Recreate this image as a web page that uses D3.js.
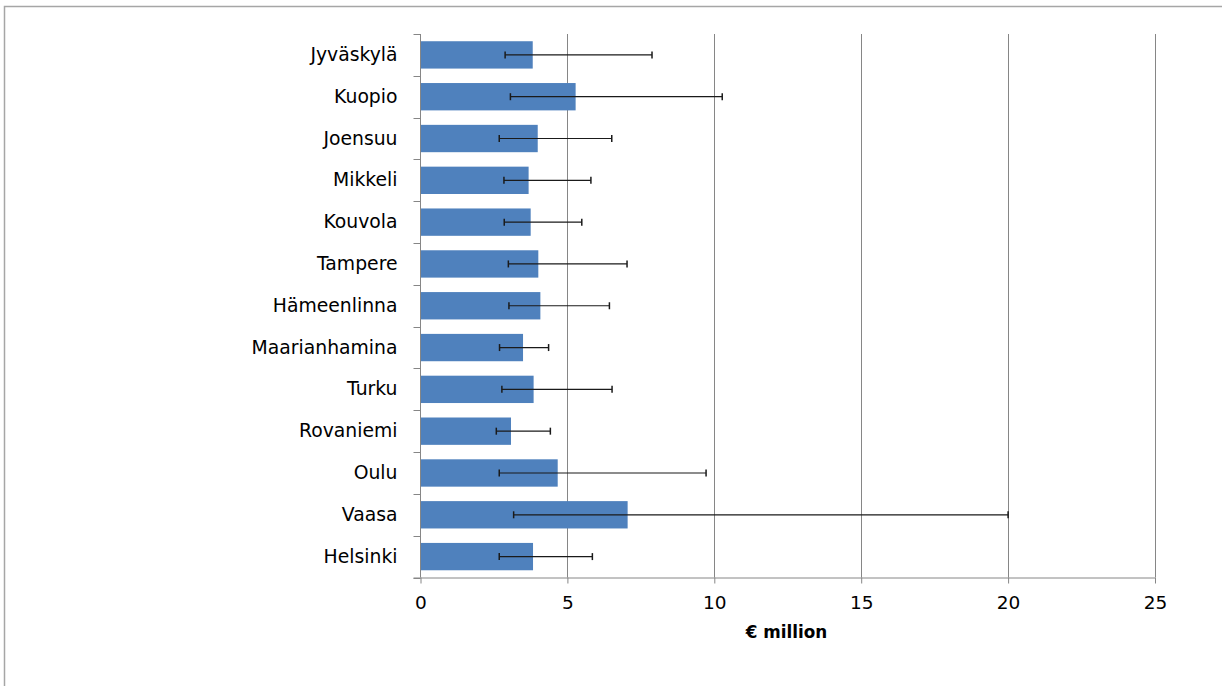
<!DOCTYPE html>
<html><head><meta charset="utf-8">
<script src="https://cdn.jsdelivr.net/npm/d3@7"></script>
<style>body{margin:0;background:#fff}svg{display:block}text{font-family:"DejaVu Sans",sans-serif}</style>
</head><body>
<script>
const categories = ["Jyväskylä","Kuopio","Joensuu","Mikkeli","Kouvola","Tampere","Hämeenlinna","Maarianhamina","Turku","Rovaniemi","Oulu","Vaasa","Helsinki"];
const values    = [3.82, 5.28, 3.99, 3.68, 3.75, 4.01, 4.08, 3.49, 3.85, 3.08, 4.67, 7.05, 3.83];
const errLow    = [2.88, 3.06, 2.68, 2.84, 2.85, 2.99, 3.01, 2.69, 2.77, 2.58, 2.68, 3.17, 2.68];
const errHigh   = [7.88, 10.27, 6.51, 5.80, 5.49, 7.03, 6.43, 4.36, 6.52, 4.42, 9.72, 20.0, 5.85];
const xTicks    = [0, 5, 10, 15, 20, 25];
const xTitle    = "€ million";

const W = 1222, H = 686;
const FONT = '"DejaVu Sans",sans-serif';
const svg = d3.select("body").append("svg").attr("width", W).attr("height", H);

// outer chart border (only top and left visible)
svg.append("rect").attr("x", 4.5).attr("y", 6.5).attr("width", 1240).attr("height", 700)
  .attr("fill", "none").attr("stroke", "#a6a6a6").attr("stroke-width", 1.5);

const pLeft = 420.5, pRight = 1155, pTop = 34, pBottom = 577.5;
const x = d3.scaleLinear().domain([0, 25]).range([pLeft, pRight]);
const y = d3.scaleBand().domain(categories).range([pTop, pBottom]).paddingInner(0.346).paddingOuter(0.173);

// gridlines
svg.append("g").selectAll("line").data(xTicks.slice(1)).join("line")
  .attr("x1", d => Math.round(x(d)) + 0.5).attr("x2", d => Math.round(x(d)) + 0.5)
  .attr("y1", pTop).attr("y2", pBottom)
  .attr("stroke", "#868686").attr("stroke-width", 1);

// bars
svg.append("g").selectAll("rect").data(categories).join("rect")
  .attr("x", x(0)).attr("y", d => y(d))
  .attr("width", (d, i) => x(values[i]) - x(0)).attr("height", y.bandwidth())
  .attr("fill", "#4f81bd");

// x axis
const xAxis = svg.append("g").attr("transform", `translate(0,${pBottom})`)
  .call(d3.axisBottom(x).tickValues(xTicks).tickSize(6).tickPadding(12).tickFormat(d3.format("d")));
xAxis.select(".domain").attr("stroke", "#868686").attr("d", `M${pLeft - 7},0.5H${pRight}`);
xAxis.selectAll(".tick line").attr("stroke", "#868686");
xAxis.selectAll("text").attr("font-size", 18.5).attr("fill", "#000").attr("font-family", FONT);

// y axis
const yAxis = svg.append("g").attr("transform", `translate(${pLeft},0)`)
  .call(d3.axisLeft(y).tickSize(0).tickPadding(23));
yAxis.select(".domain").attr("stroke", "#868686").attr("d", `M0,${pTop}V${pBottom}`);
yAxis.selectAll("text").attr("font-size", 18.8).attr("fill", "#000").attr("font-family", FONT);
// category boundary ticks
const bounds = d3.range(categories.length + 1).map(i => pTop + i * (pBottom - pTop) / categories.length);
svg.append("g").selectAll("line").data(bounds).join("line")
  .attr("x1", pLeft - 7).attr("x2", pLeft).attr("y1", d => Math.round(d) + 0.5).attr("y2", d => Math.round(d) + 0.5)
  .attr("stroke", "#868686");

// error bars
const eb = svg.append("g").attr("stroke", "#1a1a1a").attr("stroke-width", 1.2);
categories.forEach((c, i) => {
  const cy = y(c) + y.bandwidth() / 2;
  eb.append("line").attr("x1", x(errLow[i])).attr("x2", x(errHigh[i])).attr("y1", cy).attr("y2", cy);
  [errLow[i], errHigh[i]].forEach(v => {
    eb.append("line").attr("x1", x(v)).attr("x2", x(v)).attr("y1", cy - 3.5).attr("y2", cy + 3.5).attr("stroke-width", 1.5);
  });
});

// axis title
svg.append("text").attr("x", 786.5).attr("y", 638).attr("text-anchor", "middle")
  .attr("font-size", 16.8).attr("font-weight", "bold").attr("font-family", FONT).text(xTitle);
</script>
</body></html>
